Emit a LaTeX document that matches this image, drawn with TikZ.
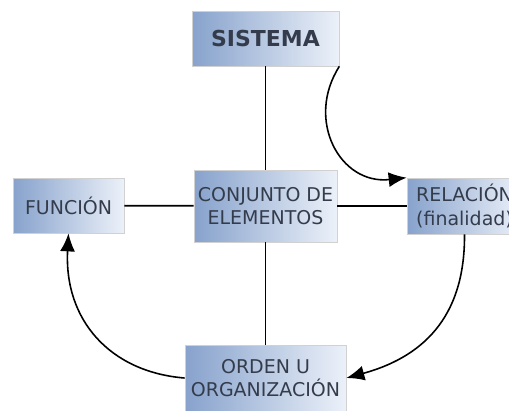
\documentclass[tikz,border=0pt]{standalone}
\usepackage{fontspec}
\setmainfont{DejaVu Sans}
\usetikzlibrary{arrows.meta}
\definecolor{boxleft}{RGB}{135,162,204}
\definecolor{boxright}{RGB}{236,241,249}
\definecolor{boxtext}{RGB}{52,60,76}
\tikzset{caja/.style={draw=black!18, line width=0.4pt, left color=boxleft, right color=boxright, text=boxtext, align=center, inner sep=0pt, font=\fontsize{10.8}{13.5}\selectfont}}
\tikzset{flecha/.style={line width=0.9pt, -{Latex[length=3.6mm,width=3mm]}}}

\begin{document}
\begin{tikzpicture}[x=0.02cm, y=-0.02cm]
		%%%%% START %%%%%
		\useasboundingbox (0, 0) rectangle (509, 410);
		
		\node[caja, minimum width=147*0.02cm, minimum height=55*0.02cm, font=\fontsize{12.5}{14}\selectfont\bfseries] (sistema) at (265.5, 38.5) {SISTEMA};
		\node[caja, minimum width=143*0.02cm, minimum height=72*0.02cm] (conjunto) at (265.5, 206) {CONJUNTO DE\\ELEMENTOS};
		\node[caja, minimum width=111*0.02cm, minimum height=55*0.02cm] (funcion) at (68.5, 205.5) {FUNCIÓN};
		\node[caja, minimum width=115*0.02cm, minimum height=56*0.02cm] (relacion) at (464.5, 206) {RELACIÓN\\(finalidad)};
		\node[caja, minimum width=161*0.02cm, minimum height=66*0.02cm] (orden) at (265.5, 378) {ORDEN U\\ORGANIZACIÓN};
		
		\draw[line width=1pt] (sistema) -- (conjunto);
		\draw[line width=1pt] (conjunto) -- (orden);
		\draw[line width=1pt] (funcion) -- (conjunto);
		\draw[line width=1pt] (conjunto) -- (relacion);
		
		\draw[flecha] (sistema.south east) .. controls (305, 120) and (340, 185) .. (relacion.north west);
		\draw[flecha] (relacion.south) .. controls (465, 310) and (430, 355) .. (orden.east);
		\draw[flecha] (orden.west) .. controls (110, 372) and (64, 320) .. (funcion.south);
		
		%%%%% END %%%%%
	\end{tikzpicture}
\end{document}
